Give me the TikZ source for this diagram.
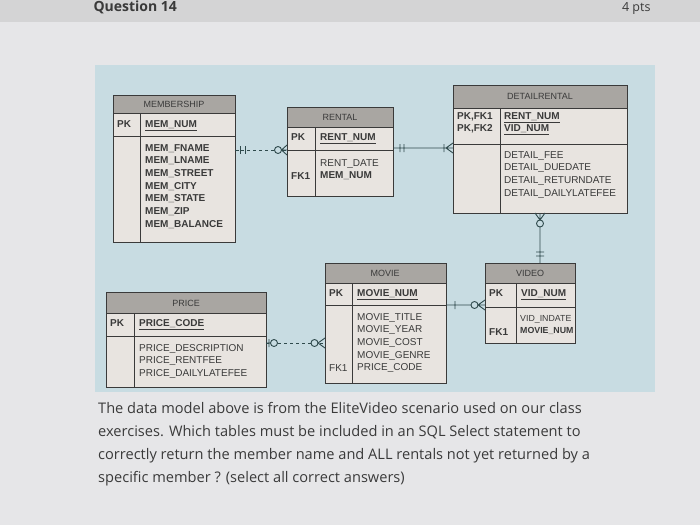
\documentclass[tikz,border=0pt]{standalone}
\usepackage{fontspec}
\setmainfont{Liberation Sans}
\newfontfamily\qfont{Open Sans}
\usetikzlibrary{calc}
\definecolor{page}{HTML}{E6E6E8}
\definecolor{panel}{HTML}{C8DCE2}
\definecolor{hdr}{HTML}{A9A6A2}
\definecolor{body}{HTML}{E8E4E0}
\definecolor{ink}{HTML}{3A3A3A}
\definecolor{lnk}{HTML}{2F4A4C}
\newcommand\fa{\fontsize{10}{12.7}\selectfont}
\begin{document}
\begin{tikzpicture}[x=1pt,y=-1pt,
  tbl/.style={draw=ink,line width=1pt,fill=body,inner sep=0,anchor=north west},
  hd/.style={font=\fontsize{9}{11}\selectfont,text=ink},
  tx/.style={font=\fa,text=ink,anchor=north west,align=left,inner sep=0},
  rel/.style={draw=lnk,line width=0.9pt},
  qt/.style={font=\qfont\fontsize{14.6}{23}\selectfont,text=ink,anchor=north west,align=left,inner sep=0}]
\useasboundingbox (0,0) rectangle (700,525);
\fill[page] (0,0) rectangle (700,525);
\fill[page!92!black] (0,0) rectangle (700,22);
\node[font=\qfont\fontsize{14}{16}\selectfont\bfseries,text=ink,anchor=west] (q) at (90,7) {Question 14};
\node[font=\qfont\fontsize{12.5}{14}\selectfont,text=ink,anchor=east] (p) at (654,9) {4 pts};
\fill[panel] (95,65) rectangle (655,392);
% MEMBERSHIP
\node[tbl,minimum width=122,minimum height=147] (mem) at (113,95) {};
\fill[hdr] (113,95) rectangle (235,113);
\draw[ink,line width=1pt] (113,95) rectangle (235,242) (113,113)--(235,113) (113,136)--(235,136) (140,113)--(140,242);
\node[hd] (memh) at (174,104) {MEMBERSHIP};
\node[tx,font=\fa\bfseries] (mempk) at (117,120) {PK};
\node[tx,font=\fa\bfseries] (memk) at (145,120) {\underline{MEM\_NUM}};
\node[tx,font=\fa\bfseries] (mema) at (145,144) {MEM\_FNAME\\MEM\_LNAME\\MEM\_STREET\\MEM\_CITY\\MEM\_STATE\\MEM\_ZIP\\MEM\_BALANCE};
% RENTAL
\node[tbl,minimum width=106,minimum height=89] (ren) at (287,107) {};
\fill[hdr] (287,107) rectangle (393,127);
\draw[ink,line width=1pt] (287,107) rectangle (393,196) (287,127)--(393,127) (287,150)--(393,150) (315,127)--(315,196);
\node[hd] (renh) at (340,117) {RENTAL};
\node[tx,font=\fa\bfseries] (renpk) at (291,133) {PK};
\node[tx,font=\fa\bfseries] (renk) at (320,133) {\underline{RENT\_NUM}};
\node[tx] (rena) at (320,159) {RENT\_DATE\\\textbf{MEM\_NUM}};
\node[tx,font=\fa\bfseries] (renfk) at (291,172) {FK1};
% DETAILRENTAL
\node[tbl,minimum width=174,minimum height=128] (det) at (453,85) {};
\fill[hdr] (453,85) rectangle (627,108);
\draw[ink,line width=1pt] (453,85) rectangle (627,213) (453,108)--(627,108) (453,144)--(627,144) (500,108)--(500,213);
\node[hd] (deth) at (540,96) {DETAILRENTAL};
\node[tx,font=\fa\bfseries] (detpk) at (457,112) {PK,FK1\\PK,FK2};
\node[tx,font=\fa\bfseries] (detk) at (504,112) {\underline{RENT\_NUM}\\\underline{VID\_NUM}};
\node[tx] (deta) at (504,151) {DETAIL\_FEE\\DETAIL\_DUEDATE\\DETAIL\_RETURNDATE\\DETAIL\_DAILYLATEFEE};
% MOVIE
\node[tbl,minimum width=121,minimum height=120] (mov) at (325,263) {};
\fill[hdr] (325,263) rectangle (446,283);
\draw[ink,line width=1pt] (325,263) rectangle (446,383) (325,283)--(446,283) (325,305)--(446,305) (352,283)--(352,383);
\node[hd] (movh) at (385,273) {MOVIE};
\node[tx,font=\fa\bfseries] (movpk) at (329,289) {PK};
\node[tx,font=\fa\bfseries] (movk) at (357,289) {\underline{MOVIE\_NUM}};
\node[tx] (mova) at (357,313) {MOVIE\_TITLE\\MOVIE\_YEAR\\MOVIE\_COST\\MOVIE\_GENRE\\PRICE\_CODE};
\node[tx] (movfk) at (329,364) {FK1};
% VIDEO
\node[tbl,minimum width=90,minimum height=80] (vid) at (485,263) {};
\fill[hdr] (485,263) rectangle (575,283);
\draw[ink,line width=1pt] (485,263) rectangle (575,343) (485,283)--(575,283) (485,307)--(575,307) (516,283)--(516,343);
\node[hd] (vidh) at (530,273) {VIDEO};
\node[tx,font=\fa\bfseries] (vidpk) at (489,289) {PK};
\node[tx,font=\fa\bfseries] (vidk) at (521,289) {\underline{VID\_NUM}};
\node[tx,font=\fontsize{8.8}{12.7}\selectfont] (vida) at (520,315) {VID\_INDATE\\\textbf{MOVIE\_NUM}};
\node[tx,font=\fa\bfseries] (vidfk) at (489,328) {FK1};
% PRICE
\node[tbl,minimum width=160,minimum height=95] (pri) at (106,292) {};
\fill[hdr] (106,292) rectangle (266,313);
\draw[ink,line width=1pt] (106,292) rectangle (266,387) (106,313)--(266,313) (106,336)--(266,336) (134,313)--(134,387);
\node[hd] (prih) at (186,303) {PRICE};
\node[tx,font=\fa\bfseries] (pripk) at (110,319) {PK};
\node[tx,font=\fa\bfseries] (prik) at (139,319) {\underline{PRICE\_CODE}};
\node[tx] (pria) at (139,344) {PRICE\_DESCRIPTION\\PRICE\_RENTFEE\\PRICE\_DAILYLATEFEE};
% relationships
\coordinate (r1a) at (235,150); \coordinate (r1b) at (287,150);
\draw[rel,dashed] (r1a) -- (r1b);
\draw[rel] (r1a)--+(4,0) (240,146)--(240,154) (245,146)--(245,154);
\draw[rel,fill=panel] (278,150) circle (3.5);
\draw[rel] (281.5,150)--(r1b) (281.5,150)--(287,145) (281.5,150)--(287,155);
\coordinate (r2a) at (393,148); \coordinate (r2b) at (453,148);
\draw[rel] (r2a)--(r2b) (400,144)--(400,152) (404,144)--(404,152) (444,144)--(444,152) (446,148)--(453,143) (446,148)--(453,153);
\coordinate (r3a) at (540,213); \coordinate (r3b) at (540,263);
\draw[rel] (r3a)--(r3b) (540,220)--(535,213) (540,220)--(545,213) (536,252)--(544,252) (536,256)--(544,256);
\draw[rel,fill=panel] (540,223.5) circle (3.5);
\coordinate (r4a) at (446,305); \coordinate (r4b) at (485,305);
\draw[rel] (r4a)--(r4b) (455,301)--(455,309) (478,305)--(485,300) (478,305)--(485,310);
\draw[rel,fill=panel] (474.5,305) circle (3.5);
\coordinate (r5a) at (266,343); \coordinate (r5b) at (325,343);
\draw[rel,dashed] (r5a)--(r5b);
\draw[rel] (r5a)--+(4,0) (269,339)--(269,347) (318,343)--(325,338) (318,343)--(325,348);
\draw[rel,fill=panel] (274,343) circle (3.5) (314.5,343) circle (3.5);
% question text
\node[qt] (txt) at (98,402) {The data model above is from the EliteVideo scenario used on our class\\exercises. Which tables must be included in an SQL Select statement to\\correctly return the member name and ALL rentals not yet returned by a\\specific member ? (select all correct answers)};
\end{tikzpicture}
\end{document}
